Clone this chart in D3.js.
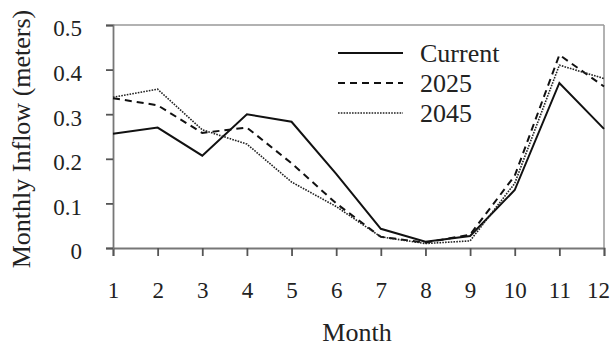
<!DOCTYPE html>
<html>
<head>
<meta charset="utf-8">
<script src="https://cdn.jsdelivr.net/npm/d3@7"></script>
<style>
  body { margin: 0; background: #fff; }
  text { font-family: "Liberation Serif", "Times New Roman", serif; fill: #222; }
</style>
</head>
<body>
<div id="chart"></div>
<script>
var width = 613;
var height = 346;

// data
var months = [1, 2, 3, 4, 5, 6, 7, 8, 9, 10, 11, 12];
var current = [0.256, 0.270, 0.207, 0.300, 0.283, 0.166, 0.043, 0.014, 0.027, 0.130, 0.370, 0.267];
var y2025 = [0.336, 0.320, 0.258, 0.270, 0.190, 0.100, 0.025, 0.012, 0.030, 0.162, 0.433, 0.362];
var y2045 = [0.338, 0.356, 0.265, 0.233, 0.148, 0.093, 0.025, 0.010, 0.016, 0.145, 0.410, 0.380];
var yTicks = [0, 0.1, 0.2, 0.3, 0.4, 0.5];
var seriesNames = ['Current', '2025', '2045'];

var series = [
  {name: seriesNames[0], values: current, dash: null, w: 2, color: '#111'},
  {name: seriesNames[1], values: y2025, dash: '7,5', w: 2, color: '#111'},
  {name: seriesNames[2], values: y2045, dash: '1.6,1.2', w: 1.6, color: '#222'}
];

var svg = d3.select('#chart').append('svg').attr('width', width).attr('height', height);

var x = d3.scaleLinear().domain([1, 12]).range([113, 604]);
var y = d3.scaleLinear().domain([0, 0.5]).range([248, 25]);

// frame top and right
svg.append('line').attr('x1', x(1)).attr('x2', x(12)).attr('y1', y(0.5)).attr('y2', y(0.5))
   .attr('stroke', '#999').attr('stroke-width', 1.5);
svg.append('line').attr('x1', x(12)).attr('x2', x(12)).attr('y1', y(0.5)).attr('y2', y(0))
   .attr('stroke', '#999').attr('stroke-width', 1.5);

// x axis
var xAxis = svg.append('g').attr('transform', 'translate(0,' + y(0) + ')')
  .call(d3.axisBottom(x).tickValues(months).tickFormat(d3.format('d')).tickSize(8).tickPadding(26));
xAxis.select('.domain').attr('stroke', '#777').attr('stroke-width', 1.8);
xAxis.selectAll('.tick line').attr('stroke', '#555').attr('stroke-width', 1.8);
xAxis.selectAll('.tick text').style('font-size', '23px').attr('fill', '#222')
  .style('font-family', '"Liberation Serif", serif');
xAxis.selectAll('.tick text').filter(function(d){ return d === 12; }).attr('dx', -6);

// y axis
var yAxis = svg.append('g').attr('transform', 'translate(' + x(1) + ',0)')
  .call(d3.axisLeft(y).tickValues(yTicks).tickFormat(function(d){ return d === 0 ? '0' : d3.format('.1f')(d); }).tickSize(7).tickPadding(24));
yAxis.select('.domain').attr('stroke', '#777').attr('stroke-width', 1.8);
yAxis.selectAll('.tick line').attr('stroke', '#555').attr('stroke-width', 1.8);
yAxis.selectAll('.tick text').style('font-size', '23px').attr('fill', '#222').attr('dy', '0.47em')
  .style('font-family', '"Liberation Serif", serif');

// axis titles
svg.append('text').attr('x', 357).attr('y', 341).attr('text-anchor', 'middle')
  .style('font-size', '26px').text('Month');
svg.append('text').attr('transform', 'translate(30,139) rotate(-90)').attr('text-anchor', 'middle')
  .style('font-size', '26px').text('Monthly Inflow (meters)');

// lines
var line = d3.line().x(function(d, i){ return x(months[i]); }).y(function(d){ return y(d); });
series.forEach(function(s){
  svg.append('path').attr('d', line(s.values)).attr('fill', 'none')
    .attr('stroke', s.color).attr('stroke-width', s.w)
    .attr('stroke-dasharray', s.dash);
});

// legend
series.forEach(function(s, i){
  var ly = 53 + i * 30;
  svg.append('line').attr('x1', 338).attr('x2', 403).attr('y1', ly).attr('y2', ly)
    .attr('stroke', s.color).attr('stroke-width', s.w).attr('stroke-dasharray', s.dash);
  svg.append('text').attr('x', 420).attr('y', ly + 9).style('font-size', '26px').text(s.name);
});
</script>
</body>
</html>
